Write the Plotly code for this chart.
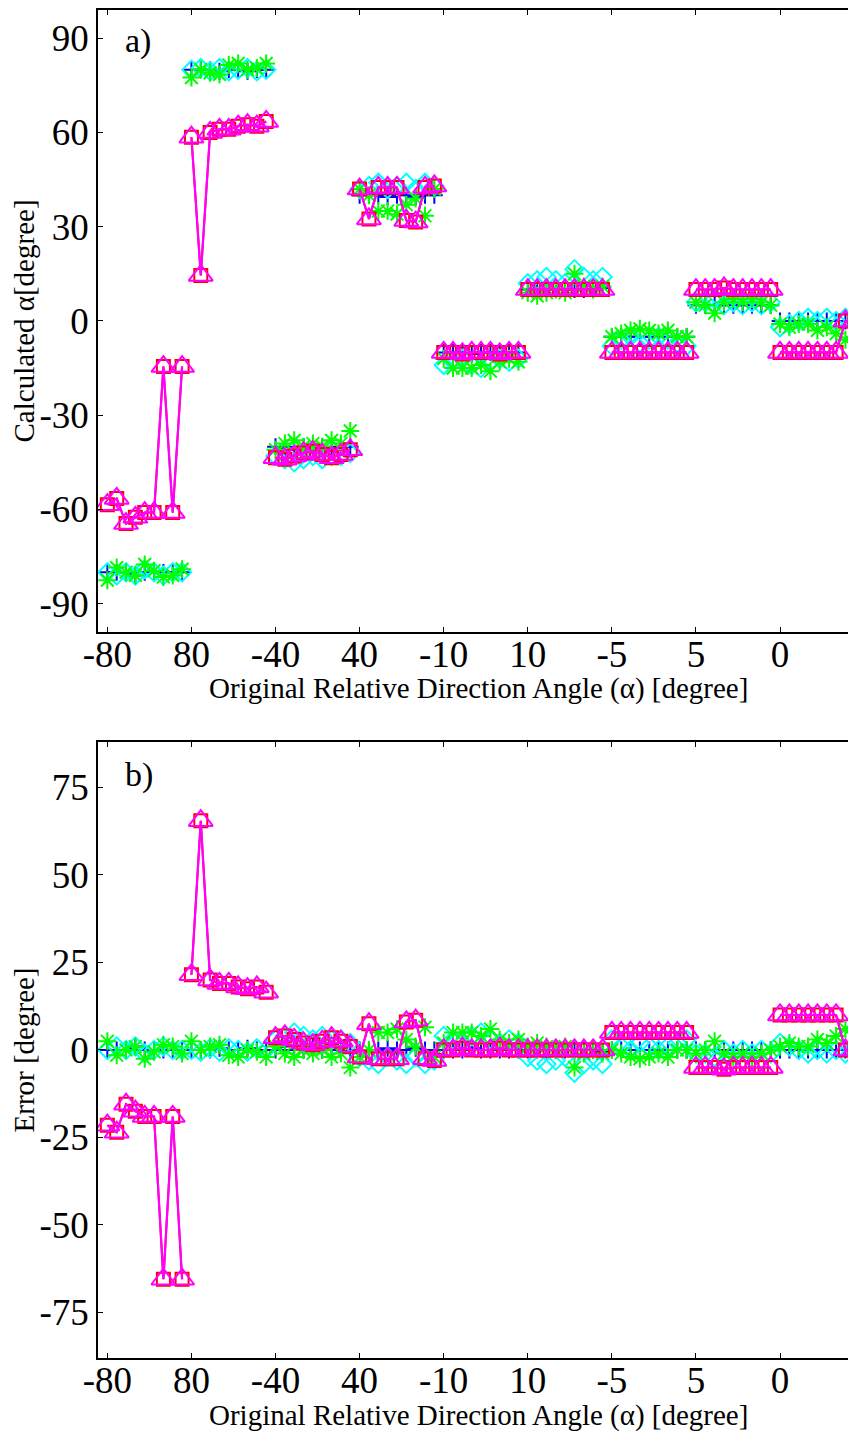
import plotly.graph_objects as go

# true angle of each group of 9 samples, and the x tick labels
true_angles = [-80, 80, -40, 40, -10, 10, -5, 5, 0]
tick_labels = ['-80', '80', '-40', '40', '-10', '10', '-5', '5', '0']

# calculated angle, one list of 9 per group
blue_calc = [
    [-80, -80, -80, -81, -80, -80, -80, -80, -80],
    [80, 80, 80, 79.5, 80, 80, 79.5, 80, 80],
    [-40, -41, -40, -40, -41, -40, -41, -40, -40],
    [40, 40, 40, 39.5, 40, 40, 39.5, 40, 40],
    [-10, -10, -10, -10.5, -10, -10, -10, -10, -10],
    [10, 10, 10, 10, 10, 10, 10, 10, 10.5],
    [-5, -5, -5, -5, -5, -5, -5, -5, -5],
    [5, 5, 5, 5, 5, 5, 5, 5, 5],
    [0, 0, 0, 0, 0, 0, 0, 0, 0],
]
cyan_calc = [
    [-80, -81, -80, -81, -79, -80, -81, -80, -80],
    [80, 80.5, 79.5, 80.5, 79.5, 80, 80.5, 79.5, 80],
    [-43, -44, -45, -44, -43, -44, -43, -43, -42],
    [42, 43, 44, 42, 43, 44, 42, 44, 43],
    [-14, -13, -12, -14, -15, -13, -12, -13, -12],
    [12, 13, 14, 13, 12, 16.5, 14, 13, 14],
    [-8, -6, -5, -7, -6, -5, -6, -7, -8],
    [6, 6, 7, 5, 6, 5, 6, 5, 6],
    [-2, -1, 0, 1, 0, 1, 0, 1, 0],
]
green_calc = [
    [-82.5, -78.5, -80, -81, -77.5, -79.5, -81.5, -81, -79],
    [77.5, 80, 79, 78.5, 81.5, 82, 80, 80.5, 82],
    [-41, -39, -38, -40, -39, -40, -38, -39, -35],
    [42, 40, 35, 35, 34, 37, 39, 33.5, 42],
    [-12, -15, -15, -15, -14, -16, -13, -12, -13],
    [9, 8, 9, 10, 9, 15, 11, 10, 11],
    [-5, -4, -3, -2.5, -3, -4, -3, -5, -5],
    [6, 5, 2.5, 6, 7, 6, 7, 6, 5],
    [-1, -2, -1, -1, -3, -2, -4, -6, -5],
]
red_calc = [
    [-58.5, -56.5, -64.5, -62.5, -61, -61, -14.5, -61, -14.5],
    [58.5, 14.5, 60, 61, 61, 62, 62.5, 62, 63.5],
    [-43.5, -44, -43, -42, -41.5, -42.5, -43.5, -42.5, -41],
    [42, 32.5, 42.5, 42.5, 42.5, 32, 31.5, 42.5, 43],
    [-10, -10, -10.5, -10, -10, -10, -10.5, -10, -10],
    [10, 10, 10, 10, 10, 10, 10, 10, 10],
    [-10, -10, -10, -10, -10, -10, -10, -10, -10],
    [10, 10, 10, 10.5, 10, 10, 10, 10, 10],
    [-10, -10, -10, -10, -10, -10, -10, 0, 0],
]
magenta_calc = [
    [-58.5, -56.5, -64.5, -62.5, -61, -61, -14.5, -61, -14.5],
    [58.5, 14.5, 60, 61, 61, 62, 62.5, 62, 63.5],
    [-43.5, -44, -43, -42, -41.5, -42.5, -43.5, -42.5, -41],
    [42, 32.5, 42.5, 42.5, 42.5, 32, 31.5, 42.5, 43],
    [-10, -10, -10.5, -10, -10, -10, -10.5, -10, -10],
    [10, 10, 10, 10, 10, 10, 10, 10, 10],
    [-10, -10, -10, -10, -10, -10, -10, -10, -10],
    [10, 10, 10, 10.5, 10, 10, 10, 10, 10],
    [-10, -10, -10, -10, -10, -10, -10, 0, 0],
]

ytick_a = [-90, -60, -30, 0, 30, 60, 90]
ytick_b = [-75, -50, -25, 0, 25, 50, 75]

n = 9
tick_pos = [1 + n * g for g in range(len(true_angles))]


def flatten(groups, err=False):
    xs, ys = [], []
    for g, vals in enumerate(groups):
        for i, v in enumerate(vals):
            xs.append(n * g + i + 1)
            ys.append(true_angles[g] - v if err else v)
        xs.append(None)
        ys.append(None)
    return xs, ys


series = [
    (blue_calc, dict(mode='lines+markers', line=dict(color='#0000ff', width=1.5, dash='dash'),
                     marker=dict(symbol='cross-thin-open', size=12, color='#0000ff',
                                 line=dict(color='#0000ff', width=2)))),
    (cyan_calc, dict(mode='markers',
                     marker=dict(symbol='diamond-open', size=14, color='#00ffff',
                                 line=dict(color='#00ffff', width=2)))),
    (green_calc, dict(mode='markers',
                      marker=dict(symbol='asterisk-open', size=15, color='#00ff00',
                                  line=dict(color='#00ff00', width=2)))),
    (red_calc, dict(mode='lines+markers', line=dict(color='#ff0000', width=2),
                    marker=dict(symbol='square-open', size=13, color='#ff0000',
                                line=dict(color='#ff0000', width=2)))),
    (magenta_calc, dict(mode='lines+markers', line=dict(color='#ff00ff', width=2.2),
                        marker=dict(symbol='triangle-up-open', size=21, color='#ff00ff',
                                    line=dict(color='#ff00ff', width=2)))),
]

fig = go.Figure()
for groups, style in series:
    x, y = flatten(groups)
    fig.add_trace(go.Scatter(x=x, y=y, xaxis='x', yaxis='y', showlegend=False, **style))
    x, y = flatten(groups, err=True)
    fig.add_trace(go.Scatter(x=x, y=y, xaxis='x2', yaxis='y2', showlegend=False, **style))

font = 'Liberation Serif'
tfont = dict(family=font, size=37, color='black')
lfont = dict(family=font, size=29, color='black')
xtitle = 'Original Relative Direction Angle (α) [degree]'
xax = dict(range=[0, 81.13], tickvals=tick_pos, ticktext=tick_labels, ticks='inside',
           ticklen=5, tickcolor='black', showline=True, linecolor='black', linewidth=1.5,
           mirror='ticks', showgrid=False, zeroline=False, automargin=False, tickfont=tfont,
           ticklabelstandoff=-11)
yax = dict(ticks='inside', ticklen=5, tickcolor='black', showline=True, linecolor='black',
           linewidth=1.5, showgrid=False, zeroline=False, automargin=False, tickfont=tfont)

# the page body adds an 8px offset, so the figure is drawn 8px smaller
fig.update_layout(
    width=848, height=1428,
    margin=dict(l=90, r=0, t=2, b=78),
    plot_bgcolor='white', paper_bgcolor='white',
    xaxis=dict(xax, anchor='y'),
    yaxis=dict(yax, domain=[0.5386, 1.0], anchor='x', range=[-99, 99],
               tickvals=ytick_a, ticktext=[str(v) for v in ytick_a],
               title=dict(text='Calculated α[degree]', font=lfont, standoff=4)),
    xaxis2=dict(xax, anchor='y2'),
    yaxis2=dict(yax, domain=[0.0, 0.457], anchor='x2', range=[-88, 88],
                tickvals=ytick_b, ticktext=[str(v) for v in ytick_b],
                title=dict(text='Error [degree]', font=lfont, standoff=4)),
    annotations=[
        dict(text='a)', xref='x domain', yref='y domain', x=0.033, y=0.95, xanchor='left',
             yanchor='middle', showarrow=False, font=dict(family=font, size=34, color='black')),
        dict(text='b)', xref='x2 domain', yref='y2 domain', x=0.033, y=0.946, xanchor='left',
             yanchor='middle', showarrow=False, font=dict(family=font, size=34, color='black')),
        dict(text=xtitle, xref='paper', yref='paper', x=0.502, y=0.497, xanchor='center',
             yanchor='middle', showarrow=False, font=lfont),
        dict(text=xtitle, xref='paper', yref='paper', x=0.502, y=-0.043, xanchor='center',
             yanchor='middle', showarrow=False, font=lfont),
    ],
)

fig.write_html('out.html')
